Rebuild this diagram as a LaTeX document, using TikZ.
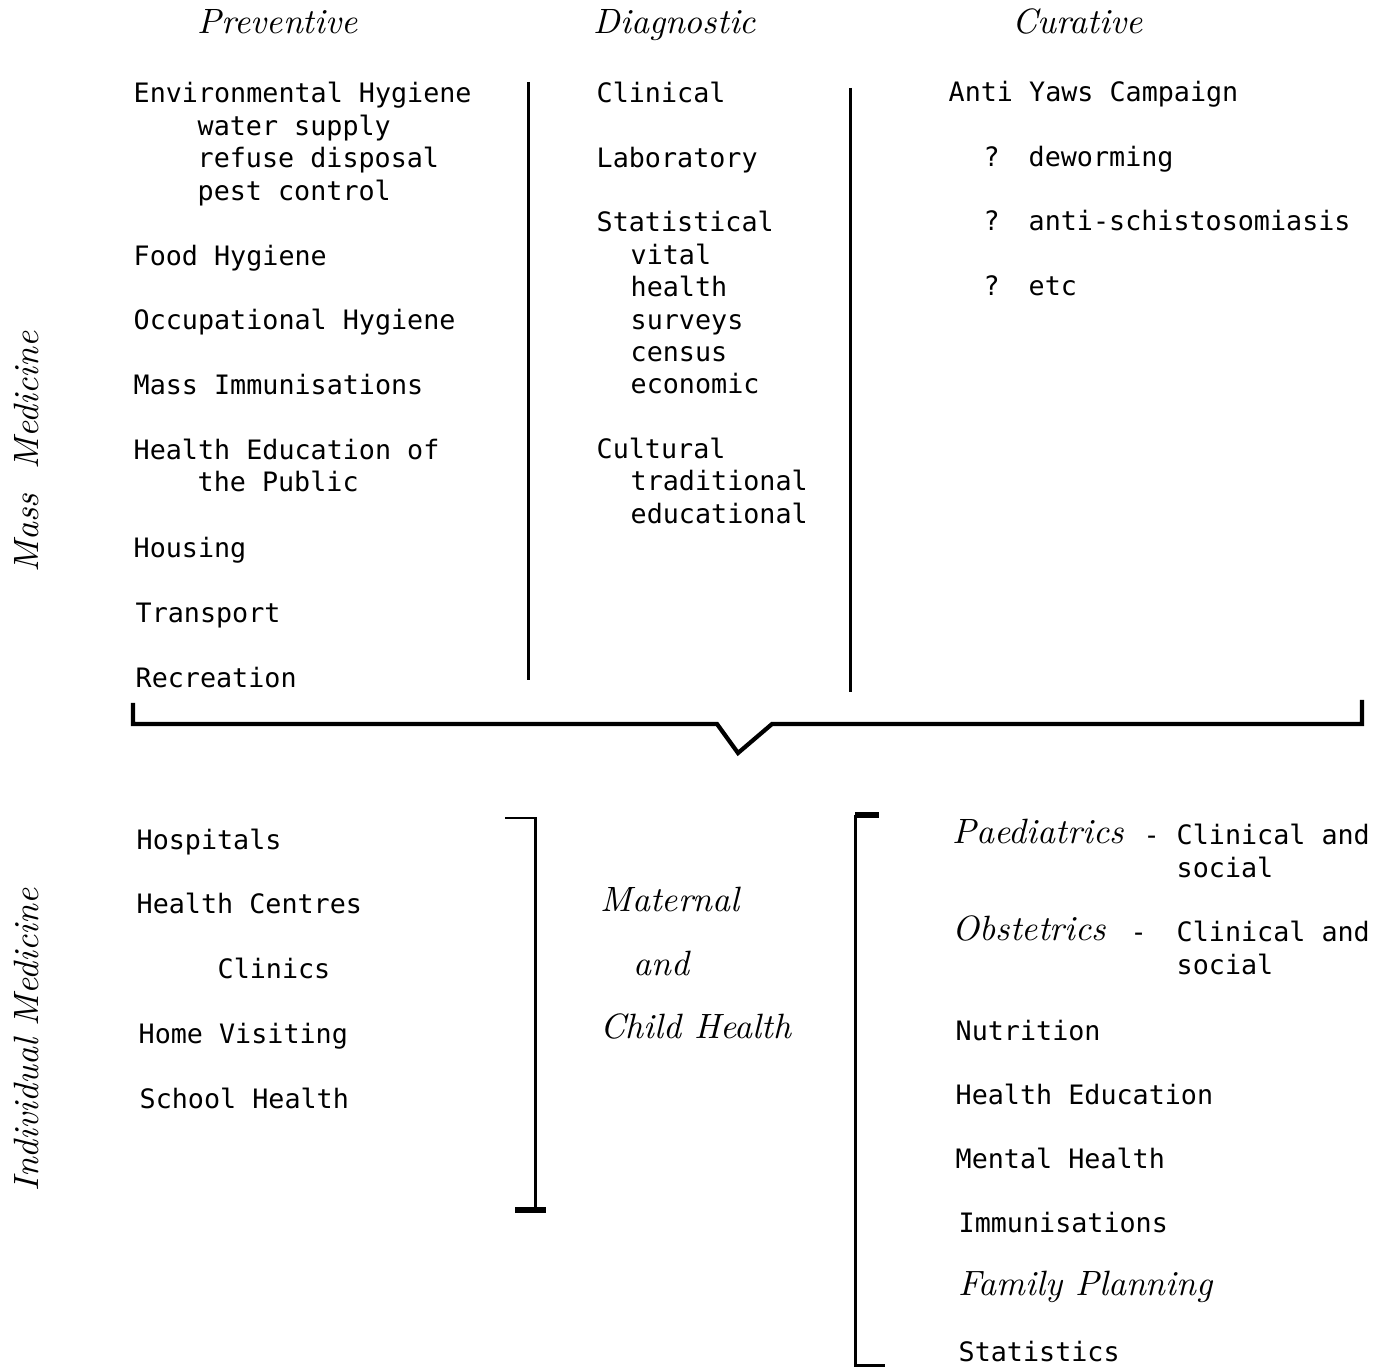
\documentclass[tikz,border=0pt]{standalone}
\usepackage{fontspec}
\newfontfamily\typed{DejaVu Sans Mono}
\usetikzlibrary{positioning}

\begin{document}
\begin{tikzpicture}[
  x=0.01cm, y=-0.01cm,
  filo/.style={draw=black, line width=0.85pt},
  staffa/.style={draw=black, line width=1.5pt},
  battuto/.style={font=\typed\fontsize{7.6}{9}\selectfont, anchor=west, inner sep=0pt, text height=5.5pt, text depth=1.5pt, yshift=-0.6pt},
  corsivo/.style={font=\fontsize{10}{12}\selectfont\itshape, anchor=west, inner sep=0pt, text height=7pt, text depth=2pt}
]
\useasboundingbox (0,0) rectangle (1377,1368);

%--------------------------------------------------------------
% Intestazioni delle colonne
%--------------------------------------------------------------
\node[corsivo] (prev) at (197,25) {Preventive};
\node[corsivo] (diag) at (593,25) {Diagnostic};
\node[corsivo] (cur)  at (1012,25) {Curative};

%--------------------------------------------------------------
% Etichette laterali
%--------------------------------------------------------------
\node[corsivo, anchor=center, rotate=90] (mass) at (30,452) {Mass\hspace{0.7em}Medicine};
\node[corsivo, anchor=center, rotate=90] (indiv) at (30,1040) {Individual Medicine};

%--------------------------------------------------------------
% Medicina di massa: colonna preventiva
%--------------------------------------------------------------
\node[battuto] (envhyg) at (133,93) {Environmental Hygiene};
\node[battuto] (water)  at (197,126) {water supply};
\node[battuto] (refuse) at (197,158) {refuse disposal};
\node[battuto] (pest)   at (197,191) {pest control};
\node[battuto] (food)   at (133,256) {Food Hygiene};
\node[battuto] (occup)  at (133,320) {Occupational Hygiene};
\node[battuto] (massim) at (133,385) {Mass Immunisations};
\node[battuto] (hedu)   at (133,450) {Health Education of};
\node[battuto] (public) at (197,482) {the Public};
\node[battuto] (housing) at (133,548) {Housing};
\node[battuto] (transp) at (135,613) {Transport};
\node[battuto] (recr)   at (135,678) {Recreation};

% separatori verticali
\draw[filo] (528,82) -- (528,680);
\draw[filo] (850,88) -- (850,692);

%--------------------------------------------------------------
% Medicina di massa: colonna diagnostica
%--------------------------------------------------------------
\node[battuto] (clin)   at (596,93) {Clinical};
\node[battuto] (lab)    at (596,158) {Laboratory};
\node[battuto] (stat)   at (596,222) {Statistical};
\node[battuto] (vital)  at (630,255) {vital};
\node[battuto] (health) at (630,287) {health};
\node[battuto] (surv)   at (630,320) {surveys};
\node[battuto] (census) at (630,352) {census};
\node[battuto] (econ)   at (630,384) {economic};
\node[battuto] (cult)   at (596,449) {Cultural};
\node[battuto] (trad)   at (630,481) {traditional};
\node[battuto] (educ)   at (630,514) {educational};

%--------------------------------------------------------------
% Medicina di massa: colonna curativa
%--------------------------------------------------------------
\node[battuto] (yaws)  at (948,92) {Anti Yaws Campaign};
\node[battuto] (q1)    at (983,157) {?};
\node[battuto] (dew)   at (1028,157) {deworming};
\node[battuto] (q2)    at (983,221) {?};
\node[battuto] (schis) at (1028,221) {anti-schistosomiasis};
\node[battuto] (q3)    at (983,286) {?};
\node[battuto] (etc)   at (1028,286) {etc};

%--------------------------------------------------------------
% Graffa che raccoglie la parte superiore
%--------------------------------------------------------------
\draw[staffa, line width=1.2pt] (133,703) -- (133,724) -- (717,724) -- (738,753)
  -- (772,724) -- (1362,724) -- (1362,700);

%--------------------------------------------------------------
% Medicina individuale
%--------------------------------------------------------------
\node[battuto] (hosp)   at (136,840) {Hospitals};
\node[battuto] (hcent)  at (136,904) {Health Centres};
\node[battuto] (clinics) at (217,969) {Clinics};
\node[battuto] (home)   at (138,1034) {Home Visiting};
\node[battuto] (school) at (139,1099) {School Health};

% parentesi quadre
\draw[filo] (505,818) -- (535,818) -- (535,1210);
\draw[staffa] (515,1210) -- (546,1210);
\draw[staffa] (855,815) -- (879,815);
\draw[filo] (855,815) -- (855,1365) -- (885,1365);

% salute materno-infantile
\node[corsivo] (mat)   at (600,903) {Maternal};
\node[corsivo] (and)   at (633,967) {and};
\node[corsivo] (child) at (600,1030) {Child Health};

%--------------------------------------------------------------
% Colonna destra della medicina individuale
%--------------------------------------------------------------
\node[corsivo] (paed)   at (952,835) {Paediatrics};
\node[battuto] (dash1)  at (1143,835) {-};
\node[battuto] (pclin)  at (1176,835) {Clinical and};
\node[battuto] (psoc)   at (1176,868) {social};
\node[corsivo] (obst)   at (952,932) {Obstetrics};
\node[battuto] (dash2)  at (1130,932) {-};
\node[battuto] (oclin)  at (1176,932) {Clinical and};
\node[battuto] (osoc)   at (1176,965) {social};
\node[battuto] (nutr)   at (955,1031) {Nutrition};
\node[battuto] (hed)    at (955,1095) {Health Education};
\node[battuto] (mental) at (955,1159) {Mental Health};
\node[battuto] (immun)  at (958,1223) {Immunisations};
\node[corsivo] (family) at (958,1287) {Family Planning};
\node[battuto] (stats)  at (958,1352) {Statistics};

\end{tikzpicture}
\end{document}
